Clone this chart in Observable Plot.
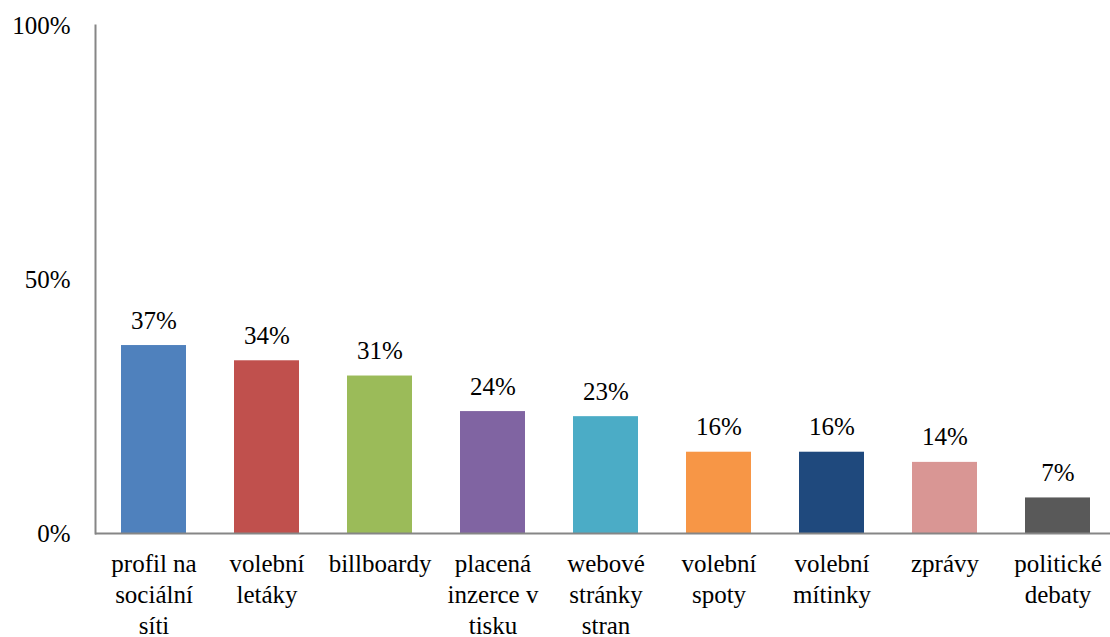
<!DOCTYPE html>
<html><head><meta charset="utf-8">
<script src="https://cdn.jsdelivr.net/npm/d3@7"></script>
<script src="https://cdn.jsdelivr.net/npm/@observablehq/plot@0.6"></script>
<style>body{margin:0;background:#fff;} svg{display:block;} svg, svg text, svg tspan{font-family:"Liberation Serif","Times New Roman",Tinos,"DejaVu Serif",serif !important;}</style>
</head><body><div id="chart"></div>
<script>
const categories = ["profil na\nsociální\nsíti","volební\nletáky","billboardy","placená\ninzerce v\ntisku","webové\nstránky\nstran","volební\nspoty","volební\nmítinky","zprávy","politické\ndebaty"];
const values = [0.37,0.34,0.31,0.24,0.23,0.16,0.16,0.14,0.07];
const colors = ["#4F81BD","#C0504D","#9BBB59","#8064A2","#4BACC6","#F79646","#1F497D","#D99694","#595959"];
const yTicks = [0,0.5,1];

const data = categories.map((c,i)=>({cat:c, v:values[i], col:colors[i]}));
const font = "Liberation Serif, Times New Roman, Tinos, DejaVu Serif, serif";

const chart = Plot.plot({
  width:1110, height:637,
  marginTop:25, marginBottom:104, marginLeft:95, marginRight:0,
  style:{fontFamily:font, fontSize:"25px", color:"#000", background:"#fff"},
  x:{domain:categories, range:[95,1116], paddingInner:0.427, paddingOuter:0.2135, label:null},
  y:{domain:[0,1], label:null},
  marks:[
    Plot.barY(data,{x:"cat", y:"v", fill:"col"}),
    Plot.text(data,{x:"cat", y:"v", text:d=>Math.round(d.v*100)+"%", dy:-25, fontSize:25, fill:"#000"}),
    Plot.frame({anchor:"left", stroke:"#868686", strokeWidth:2}),
    Plot.ruleY([0],{stroke:"#868686", strokeWidth:2}),
    Plot.axisY({ticks:yTicks, tickFormat:d=>Math.round(d*100)+"%", tickSize:0, tickPadding:25, fontSize:25, label:null}),
    Plot.axisX({tickSize:0, tickPadding:16, fontSize:25, lineHeight:1.24, label:null, textAnchor:"middle"})
  ]
});
document.getElementById("chart").append(chart);
</script></body></html>
